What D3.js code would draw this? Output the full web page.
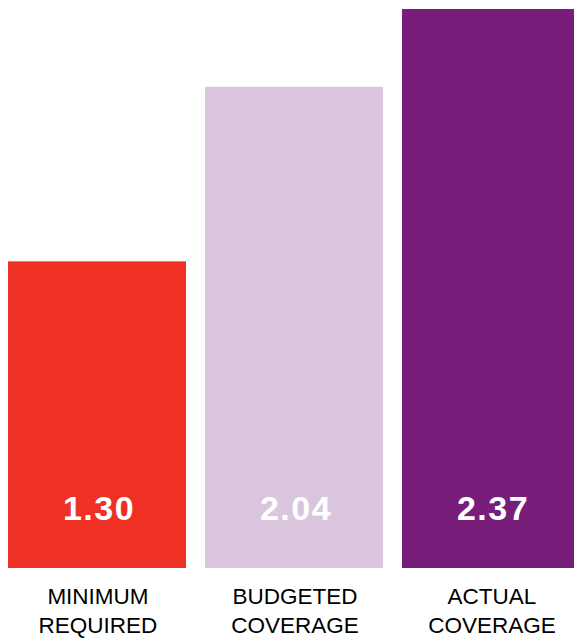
<!DOCTYPE html>
<html>
<head>
<meta charset="utf-8">
<script src="https://cdn.jsdelivr.net/npm/d3@7"></script>
<style>
  html, body { margin: 0; padding: 0; background: #fff; }
  svg { display: block; }
</style>
</head>
<body>
<svg id="chart" width="574" height="639"></svg>
<script>
// chart data
var categories = ['MINIMUM REQUIRED', 'BUDGETED COVERAGE', 'ACTUAL COVERAGE'];
var values = [1.30, 2.04, 2.37];
var colors = ['#ee3124', '#d9c6dd', '#781e7a'];

var svg = d3.select('#chart'),
    width = +svg.attr('width'),
    height = +svg.attr('height');

var baseline = 568;

var x = d3.scaleBand()
    .domain(categories)
    .range([8, 580])
    .paddingInner(0.0965)
    .paddingOuter(0);

var y = d3.scaleLinear()
    .domain([0, 2.37])
    .range([baseline, baseline - 559]);

var data = categories.map(function(c, i) { return {cat: c, value: values[i], color: colors[i]}; });

function cx(d) { return x(d.cat) + x.bandwidth() / 2; }

var bar = svg.selectAll('.bar')
    .data(data)
    .enter().append('g')
    .attr('class', 'bar');

bar.append('rect')
    .attr('x', function(d) { return x(d.cat); })
    .attr('y', function(d) { return y(d.value); })
    .attr('width', x.bandwidth())
    .attr('height', function(d) { return y(0) - y(d.value); })
    .attr('fill', function(d) { return d.color; });

bar.append('text')
    .attr('x', function(d) { return cx(d) + 2; })
    .attr('y', 520)
    .attr('text-anchor', 'middle')
    .attr('fill', '#fff')
    .style('font-family', '"Liberation Sans", Arial, sans-serif')
    .style('font-weight', 'bold')
    .style('font-size', '34px')
    .style('letter-spacing', '1.5px')
    .text(function(d) { return d3.format('.2f')(d.value); });

var label = svg.selectAll('.label')
    .data(data)
    .enter().append('text')
    .attr('class', 'label')
    .attr('text-anchor', 'middle')
    .attr('fill', '#000')
    .style('font-family', '"Liberation Sans", Arial, sans-serif')
    .style('font-size', '22.5px');

label.selectAll('tspan')
    .data(function(d) { return d.cat.split(' ').map(function(w) { return {w: w, d: d}; }); })
    .enter().append('tspan')
    .attr('x', function(t) { return cx(t.d) + 1; })
    .attr('y', function(t, i) { return 604 + i * 29; })
    .text(function(t) { return t.w; });
</script>
</body>
</html>
